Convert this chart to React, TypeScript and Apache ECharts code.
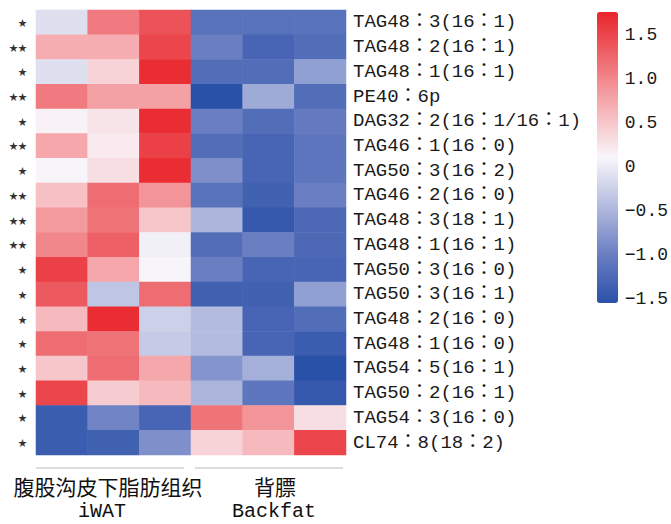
import React, { useEffect, useRef } from "react";
import * as echarts from "echarts";

const rowLabels = [
  "TAG48：3(16：1)",
  "TAG48：2(16：1)",
  "TAG48：1(16：1)",
  "PE40：6p",
  "DAG32：2(16：1/16：1)",
  "TAG46：1(16：0)",
  "TAG50：3(16：2)",
  "TAG46：2(16：0)",
  "TAG48：3(18：1)",
  "TAG48：1(16：1)",
  "TAG50：3(16：0)",
  "TAG50：3(16：1)",
  "TAG48：2(16：0)",
  "TAG48：1(16：0)",
  "TAG54：5(16：1)",
  "TAG50：2(16：1)",
  "TAG54：3(16：0)",
  "CL74：8(18：2)",
];

const significance = [
  "★", "★★", "★", "★★", "★", "★★", "★", "★★", "★★", "★★",
  "★", "★", "★", "★", "★", "★", "★", "★",
];

const sampleColumns = ["iWAT-1", "iWAT-2", "iWAT-3", "Backfat-1", "Backfat-2", "Backfat-3"];

const groupNames = ["腹股沟皮下脂肪组织", "背膘"];
const groupNamesEn = ["iWAT", "Backfat"];

const zValues: number[][] = [
  [-0.1, 1.1, 1.4, -1.15, -1.15, -1.15],
  [0.7, 0.7, 1.5, -1.0, -1.3, -1.2],
  [-0.1, 0.4, 1.7, -1.2, -1.2, -0.7],
  [1.1, 0.8, 0.8, -1.55, -0.6, -1.2],
  [0.15, 0.25, 1.7, -1.0, -1.2, -1.05],
  [0.75, 0.2, 1.55, -1.2, -1.3, -1.1],
  [0.1, 0.3, 1.7, -0.85, -1.3, -1.1],
  [0.55, 1.2, 0.9, -1.15, -1.35, -1.0],
  [0.85, 1.15, 0.5, -0.5, -1.45, -1.25],
  [1.0, 1.3, 0.05, -1.2, -1.0, -1.25],
  [1.55, 0.75, 0.1, -1.0, -1.3, -1.3],
  [1.35, -0.35, 1.2, -1.35, -1.35, -0.7],
  [0.6, 1.7, -0.25, -0.45, -1.3, -1.2],
  [1.2, 1.15, -0.3, -0.45, -1.3, -1.4],
  [0.5, 1.2, 0.75, -0.8, -0.55, -1.55],
  [1.5, 0.45, 0.6, -0.5, -1.1, -1.45],
  [-1.4, -0.95, -1.3, 1.15, 0.9, 0.3],
  [-1.4, -1.35, -0.85, 0.4, 0.6, 1.5],
];

const colorbarTicks = [-1.5, -1.0, -0.5, 0, 0.5, 1.0, 1.5];
const scaleMin = -1.55;
const scaleMax = 1.76;

const LATIN = "'Liberation Mono', 'Noto Sans CJK TC', monospace";
const CJK = "'Noto Sans CJK SC', sans-serif";

export default function App() {
  const ref = useRef<HTMLDivElement>(null);

  useEffect(() => {
    if (!ref.current) return;
    const chart = echarts.init(ref.current, undefined, { renderer: "svg" });

    const data: [number, number, number][] = [];
    zValues.forEach((row, r) => {
      row.forEach((v, c) => data.push([c, r, v]));
    });

    const option: any = {
      animation: false,
      backgroundColor: "#ffffff",
      grid: [
        { left: 36, top: 10, width: 310, height: 445 },
        { left: 597, top: 12, width: 21, height: 291 },
      ],
      xAxis: [
        { type: "category", data: sampleColumns, gridIndex: 0, show: false },
        { type: "value", gridIndex: 1, show: false, min: 0, max: 1 },
      ],
      yAxis: [
        {
          type: "category",
          data: rowLabels,
          gridIndex: 0,
          inverse: true,
          position: "right",
          axisLine: { show: false },
          axisTick: { show: false },
          splitLine: { show: false },
          axisLabel: {
            margin: 7,
            fontSize: 19,
            fontFamily: LATIN,
            color: "#1a1a1a",
            interval: 0,
          },
        },
        {
          type: "category",
          data: rowLabels,
          gridIndex: 0,
          inverse: true,
          position: "left",
          axisLine: { show: false },
          axisTick: { show: false },
          splitLine: { show: false },
          axisLabel: {
            margin: 9,
            fontSize: 9,
            fontFamily: CJK,
            color: "#333333",
            interval: 0,
            formatter: (_v: string, i: number) => significance[i],
          },
        },
        {
          type: "value",
          gridIndex: 1,
          min: scaleMin,
          max: scaleMax,
          position: "right",
          axisLine: { show: false },
          axisTick: { show: false },
          splitLine: { show: false },
          axisLabel: {
            customValues: colorbarTicks,
            margin: 9,
            fontSize: 18,
            fontFamily: LATIN,
            color: "#1a1a1a",
            formatter: (v: number) =>
              v === 0 ? "0" : v.toFixed(1).replace("-", "−"),
          },
        },
      ],
      visualMap: {
        type: "continuous",
        seriesIndex: 0,
        min: scaleMin,
        max: scaleMax,
        show: true,
        calculable: false,
        left: 597,
        top: 12,
        padding: 0,
        itemWidth: 21,
        itemHeight: 291,
        text: undefined,
        showLabel: false,
        inRange: {
          color: [
            "#2a51a8",
            "#6a7ec2",
            "#b3bcdf",
            "#f8f6fa",
            "#f6b3b7",
            "#ee6c71",
            "#e8252b",
          ],
        },
      },
      series: [
        {
          type: "heatmap",
          xAxisIndex: 0,
          yAxisIndex: 0,
          data,
          itemStyle: { borderWidth: 0 },
          emphasis: { disabled: true },
        },
        {
          type: "scatter",
          xAxisIndex: 1,
          yAxisIndex: 2,
          data: [],
        },
      ],
      graphic: [
        {
          type: "line",
          shape: { x1: 36, y1: 468, x2: 184, y2: 468 },
          style: { stroke: "#bbbbbb", lineWidth: 1 },
        },
        {
          type: "line",
          shape: { x1: 195, y1: 468, x2: 343, y2: 468 },
          style: { stroke: "#bbbbbb", lineWidth: 1 },
        },
        {
          type: "text",
          x: 108,
          y: 486,
          style: {
            text: groupNames[0],
            font: `21px ${CJK}`,
            fill: "#111111",
            align: "center",
            verticalAlign: "middle",
          },
        },
        {
          type: "text",
          x: 275,
          y: 486,
          style: {
            text: groupNames[1],
            font: `21px ${CJK}`,
            fill: "#111111",
            align: "center",
            verticalAlign: "middle",
          },
        },
        {
          type: "text",
          x: 102,
          y: 511,
          style: {
            text: groupNamesEn[0],
            font: `20px ${LATIN}`,
            fill: "#111111",
            align: "center",
            verticalAlign: "middle",
          },
        },
        {
          type: "text",
          x: 274,
          y: 511,
          style: {
            text: groupNamesEn[1],
            font: `20px ${LATIN}`,
            fill: "#111111",
            align: "center",
            verticalAlign: "middle",
          },
        },
      ],
    };

    chart.setOption(option);
    return () => chart.dispose();
  }, []);

  return (
    <div
      ref={ref}
      style={{ position: "fixed", left: 0, top: 0, width: 671, height: 524, background: "#fff" }}
    />
  );
}
